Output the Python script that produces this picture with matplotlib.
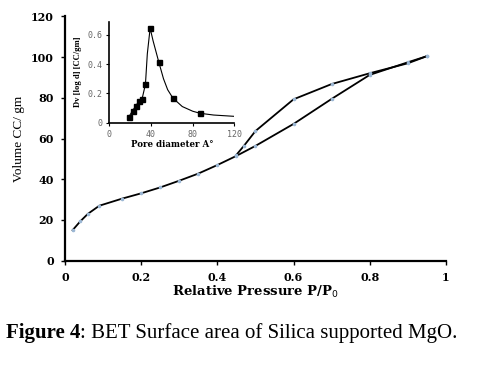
import matplotlib
matplotlib.use("Agg")
import matplotlib.pyplot as plt

# Main isotherm data
ads_p = [0.02, 0.04, 0.06, 0.09, 0.15, 0.20, 0.25, 0.30, 0.35, 0.40, 0.45, 0.50, 0.60, 0.70, 0.80, 0.90, 0.95]
ads_v = [15.0, 19.3, 23.0, 27.0, 30.5, 33.1, 36.0, 39.3, 42.8, 47.0, 51.5, 56.4, 67.2, 79.5, 91.3, 97.5, 100.5]
des_p = [0.95, 0.90, 0.80, 0.70, 0.60, 0.50, 0.47, 0.45]
des_v = [100.5, 97.0, 92.1, 86.8, 79.3, 63.7, 56.5, 52.0]

x_ticks = [0, 0.2, 0.4, 0.6, 0.8, 1]
x_tick_labels = ["0", "0.2", "0.4", "0.6", "0.8", "1"]
y_ticks = [0, 20, 40, 60, 80, 100, 120]

# Inset pore size distribution
pore_d = [18.6, 22.5, 25.7, 28.3, 31.5, 34.7, 39.2, 47.5, 61.0, 87.0]
pore_dv = [0.037, 0.083, 0.117, 0.145, 0.163, 0.262, 0.646, 0.414, 0.168, 0.064]
curve_d = [18.6, 22.5, 25.7, 28.3, 31.5, 34.7, 36.5, 39.2, 42.0, 47.5, 52.0, 56.0, 61.0, 70.0, 80.0, 87.0, 100.0, 120.0]
curve_dv = [0.037, 0.083, 0.117, 0.145, 0.163, 0.262, 0.47, 0.646, 0.56, 0.414, 0.30, 0.225, 0.168, 0.11, 0.078, 0.064, 0.052, 0.043]
inset_x_ticks = [0, 40, 80, 120]
inset_y_ticks = [0, 0.2, 0.4, 0.6]
inset_y_labels = ["0", "0.2", "0.4", "0.6"]

fig = plt.figure(figsize=(5.01, 3.65), dpi=100)
ax = fig.add_axes([0.1297, 0.2858, 0.7603, 0.669])

ax.plot(ads_p, ads_v, color="black", lw=1.3, marker="o", ms=1.6,
        mfc="#9bb7d4", mec="#9bb7d4", zorder=3)
ax.plot(des_p, des_v, color="black", lw=1.3, marker="o", ms=1.6,
        mfc="#9bb7d4", mec="#9bb7d4", zorder=3)

ax.set_xlim(0, 1)
ax.set_ylim(0, 120)
ax.set_xticks(x_ticks)
ax.set_xticklabels(x_tick_labels)
ax.set_yticks(y_ticks)
for s in ["top", "right"]:
    ax.spines[s].set_visible(False)
for s in ["left", "bottom"]:
    ax.spines[s].set_linewidth(1.6)
ax.tick_params(direction="out", length=3, width=1, labelsize=8, pad=5)
for lab in ax.get_xticklabels() + ax.get_yticklabels():
    lab.set_fontfamily("DejaVu Serif")
    lab.set_fontweight("bold")

ax.set_xlabel("Relative Pressure P/P$_0$", fontfamily="DejaVu Serif",
              fontweight="bold", fontsize=9.5, labelpad=1)
ax.set_ylabel("Volume CC/ gm", fontfamily="Liberation Serif", fontsize=9.5,
              labelpad=4)

# Inset
ins = fig.add_axes([0.218, 0.664, 0.25, 0.2765])
ins.plot(curve_d, curve_dv, color="black", lw=0.8, zorder=2)
ins.plot(pore_d, pore_dv, linestyle="none", marker="s", ms=3.6,
         color="black", zorder=3)
ins.set_xlim(0, 120)
ins.set_ylim(0, 0.69)
ins.set_xticks(inset_x_ticks)
ins.set_yticks(inset_y_ticks)
ins.set_yticklabels(inset_y_labels)
for s in ["top", "right"]:
    ins.spines[s].set_visible(False)
for s in ["left", "bottom"]:
    ins.spines[s].set_linewidth(1.2)
ins.tick_params(direction="out", length=2, width=0.8, labelsize=6,
                labelcolor="#666666", pad=3)
for lab in ins.get_xticklabels() + ins.get_yticklabels():
    lab.set_fontfamily("DejaVu Sans Mono")
ins.set_xlabel("Pore diameter A°", fontfamily="DejaVu Serif",
               fontweight="bold", fontsize=6.2, labelpad=1)
ins.set_ylabel("Dv [log d] [CC/gm]", fontfamily="Liberation Serif",
               fontweight="bold", fontsize=6.2, labelpad=4)

# Caption
t1 = fig.text(0.012, 0.088, "Figure 4", fontfamily="Liberation Serif",
              fontweight="bold", fontsize=15, va="center", ha="left")
fig.canvas.draw()
ann = plt.annotate(": BET Surface area of Silica supported MgO.",
                   xy=(1, 0.5), xycoords=t1, va="center", ha="left",
                   fontfamily="Liberation Serif", fontsize=15,
                   annotation_clip=False)

fig.savefig("out.png", dpi=100)
